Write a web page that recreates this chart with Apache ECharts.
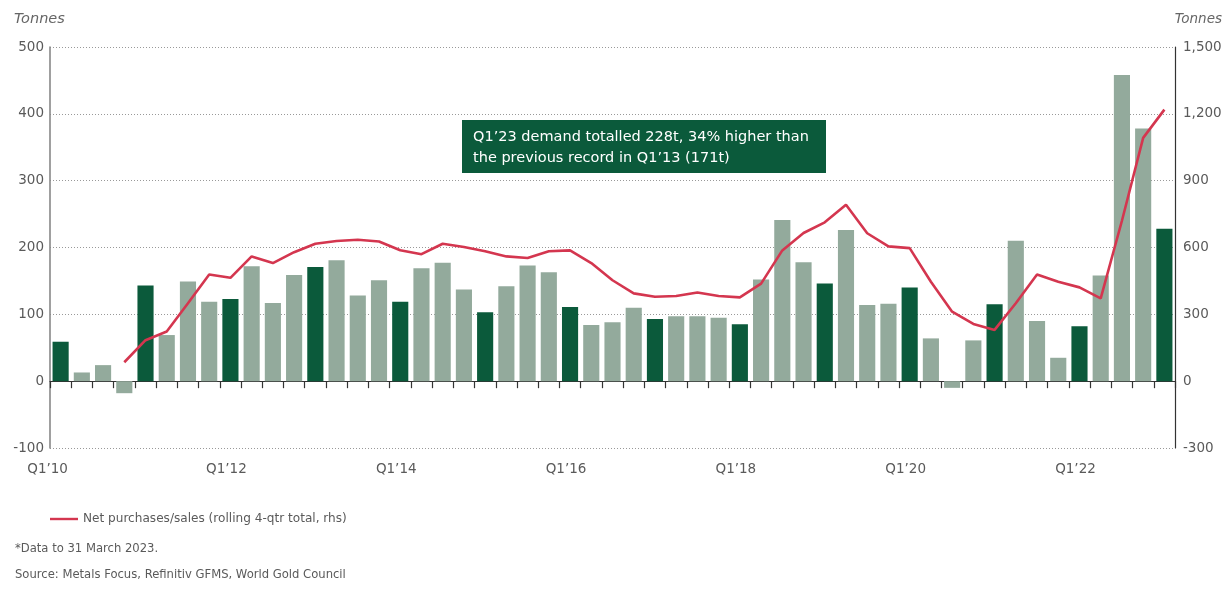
<!DOCTYPE html>
<html>
<head>
<meta charset="utf-8">
<script src="https://cdn.jsdelivr.net/npm/echarts@6/dist/echarts.min.js"></script>
<style>
html,body{margin:0;padding:0;background:#fff;}
#chart{width:1225px;height:590px;}
</style>
</head>
<body>
<div id="chart"></div>
<script>
const categories = [
  "Q1’10","Q2’10","Q3’10","Q4’10",
  "Q1’11","Q2’11","Q3’11","Q4’11",
  "Q1’12","Q2’12","Q3’12","Q4’12",
  "Q1’13","Q2’13","Q3’13","Q4’13",
  "Q1’14","Q2’14","Q3’14","Q4’14",
  "Q1’15","Q2’15","Q3’15","Q4’15",
  "Q1’16","Q2’16","Q3’16","Q4’16",
  "Q1’17","Q2’17","Q3’17","Q4’17",
  "Q1’18","Q2’18","Q3’18","Q4’18",
  "Q1’19","Q2’19","Q3’19","Q4’19",
  "Q1’20","Q2’20","Q3’20","Q4’20",
  "Q1’21","Q2’21","Q3’21","Q4’21",
  "Q1’22","Q2’22","Q3’22","Q4’22",
  "Q1’23"
];
const quarterlyDemand = [
  59, 13, 24, -18,
  143, 69, 149, 119,
  123, 172, 117, 159,
  171, 181, 128, 151,
  119, 169, 177, 137,
  103, 142, 173, 163,
  111, 84, 88, 110,
  93, 97, 97, 95,
  85, 152, 241, 178,
  146, 226, 114, 116,
  140, 64, -10, 61,
  115, 210, 90, 35,
  82, 158, 458, 378,
  228
];
const rolling4Q = [
  null, null, null, 85,
  184, 223, 350, 479,
  464, 560, 530, 579,
  617, 629, 635, 627,
  588, 570, 617, 602,
  583, 560, 553, 583,
  587, 530, 453, 394,
  379, 382, 398, 382,
  376, 438, 587, 665,
  713, 792, 664, 605,
  597, 446, 312, 257,
  230, 350, 479, 446,
  421, 372, 720, 1092,
  1219
];
const leftTicks = { min: -100, max: 500, interval: 100 };
const rightTicks = { min: -300, max: 1500, interval: 300 };
const lineName = "Net purchases/sales (rolling 4-qtr total, rhs)";
const noteLines = ["Q1’23 demand totalled 228t, 34% higher than", "the previous record in Q1’13 (171t)"];
const footnote = "*Data to 31 March 2023.";
const source = "Source: Metals Focus, Refinitiv GFMS, World Gold Council";

const FONT = "'DejaVu Sans', sans-serif";
const DARK = "#0b5a3b";
const LIGHT = "#93aa9c";
const RED = "#d4364f";
const TXT = "#5a5a5a";

const chart = echarts.init(document.getElementById('chart'), null, { renderer: 'canvas' });
chart.setOption({
  animation: false,
  backgroundColor: '#fff',
  textStyle: { fontFamily: FONT },
  grid: { left: 50, right: 50, top: 47, bottom: 142 },
  legend: {
    left: 45, top: 508,
    itemWidth: 28, itemHeight: 10, itemGap: 8,
    icon: 'path://M0,4 L28,4 L28,6.4 L0,6.4 Z',
    textStyle: { color: TXT, fontSize: 12.1, fontFamily: FONT },
    data: [{ name: lineName, itemStyle: { color: RED } }]
  },
  xAxis: [
    {
      type: 'category', data: categories, position: 'bottom',
      axisLine: { show: false }, axisTick: { show: false },
      axisLabel: {
        interval: 7, color: TXT, fontSize: 13.5, margin: 14, fontFamily: FONT,
        formatter: (v, i) => i === 0 ? '{first|' + v + '}' : '{n|' + v + '}',
        rich: {
          first: { fontSize: 13.5, color: TXT, fontFamily: FONT, padding: [0, 26, 0, 0] },
          n: { fontSize: 13.5, color: TXT, fontFamily: FONT, padding: [0, 8, 0, 0] }
        }
      }
    },
    {
      type: 'category', data: categories, position: 'top',
      axisLine: { show: true, onZero: true, onZeroAxisIndex: 0, lineStyle: { color: '#333', width: 1.2 } },
      axisTick: { show: true, inside: true, length: 7, interval: 0, lineStyle: { color: '#333', width: 1.2 } },
      axisLabel: { show: false }
    }
  ],
  yAxis: [
    {
      type: 'value', min: leftTicks.min, max: leftTicks.max, interval: leftTicks.interval,
      axisLine: { show: true, lineStyle: { color: '#888', width: 1.6 } },
      axisTick: { show: false },
      axisLabel: { color: TXT, fontSize: 13.5, margin: 6, fontFamily: FONT },
      splitLine: { show: true, lineStyle: { color: '#999', type: [1, 2], width: 1 } }
    },
    {
      type: 'value', min: rightTicks.min, max: rightTicks.max, interval: rightTicks.interval,
      axisLine: { show: true, lineStyle: { color: '#333', width: 1.2 } },
      axisTick: { show: false },
      axisLabel: { color: TXT, fontSize: 13.5, margin: 8, fontFamily: FONT,
        formatter: v => v.toLocaleString('en-US') },
      splitLine: { show: false }
    }
  ],
  series: [
    {
      type: 'bar', name: 'Demand', data: quarterlyDemand,
      xAxisIndex: 0, yAxisIndex: 0,
      barCategoryGap: '24%',
      itemStyle: { color: p => (p.dataIndex % 4 === 0 ? DARK : LIGHT) },
      z: 2
    },
    {
      type: 'line', name: lineName, data: rolling4Q,
      xAxisIndex: 0, yAxisIndex: 1,
      symbol: 'none', connectNulls: false,
      lineStyle: { color: RED, width: 2.6 },
      itemStyle: { color: RED },
      z: 4
    }
  ],
  graphic: [
    { type: 'text', left: 14, top: 12, style: { text: 'Tonnes', fill: '#666', font: `italic 14.5px ${FONT}` } },
    { type: 'text', right: 3, top: 12, style: { text: 'Tonnes', fill: '#666', font: `italic 13.5px ${FONT}` } },
    {
      type: 'group', left: 462, top: 120,
      children: [
        { type: 'rect', shape: { x: 0, y: 0, width: 364, height: 53 }, style: { fill: DARK } },
        { type: 'text', x: 11, y: 7, style: { text: noteLines.join('\n'), fill: '#fff', font: `14.5px ${FONT}`, lineHeight: 21 } }
      ]
    },
    { type: 'text', left: 15, top: 543, style: { text: footnote, fill: TXT, font: `11.6px ${FONT}` } },
    { type: 'text', left: 15, top: 569, style: { text: source, fill: TXT, font: `11.6px ${FONT}` } }
  ]
});
</script>
</body>
</html>
